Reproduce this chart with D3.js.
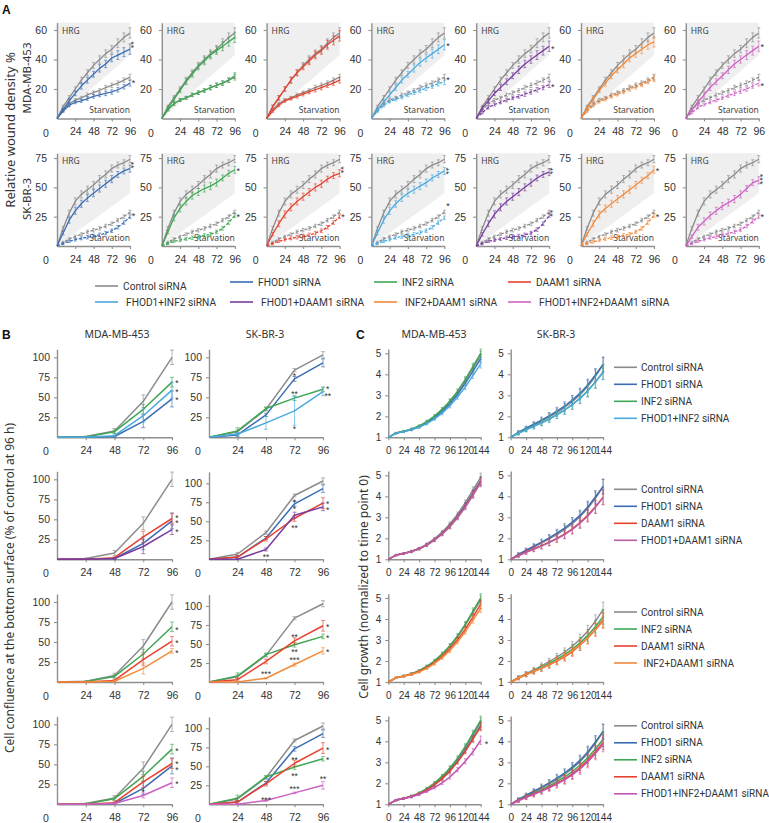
<!DOCTYPE html>
<html>
<head>
<meta charset="utf-8">
<script src="https://cdn.jsdelivr.net/npm/d3@7"></script>
<style>
  body { margin: 0; background: #fff; }
  svg { display: block; }
</style>
</head>
<body>
<svg id="fig" width="769" height="823"></svg>
<script>
// ---------------- data ----------------
const seriesNames = ["Control siRNA", "FHOD1 siRNA", "INF2 siRNA", "DAAM1 siRNA",
  "FHOD1+INF2 siRNA", "FHOD1+DAAM1 siRNA", "INF2+DAAM1 siRNA", "FHOD1+INF2+DAAM1 siRNA"];
const seriesColors = ["#8b8b8b", "#3a6db3", "#3fa653", "#e8422e",
  "#4aa9df", "#7a3d9e", "#f28b3c", "#cc62c2"];
// panel C draws the double knock-down FHOD1+DAAM1 in a lighter mauve
const seriesColorsC = ["#8b8b8b", "#3a6db3", "#3fa653", "#e8422e",
  "#4aa9df", "#b75ea6", "#f28b3c", "#c254b6"];

// A: wound density, every 8 h
const hoursA = [0, 8, 16, 24, 32, 40, 48, 56, 64, 72, 80, 88, 96];
const ctrlMdaHrg   = [0, 8, 14, 20, 26, 31, 36, 40, 44, 47, 51, 55, 58];
const ctrlMdaStarv = [0, 6, 10, 12.5, 14, 16, 17.5, 19, 21, 22.5, 24, 26, 28];
const ctrlSkHrg    = [0, 15, 28, 38, 44, 48, 52, 57, 61, 66, 69, 71, 74];
const ctrlSkStarv  = [0, 3, 6, 8, 10, 12, 13.5, 15, 17, 19, 22, 25, 29];
// one row per treatment (FHOD1, INF2, DAAM1, F+I, F+D, I+D, F+I+D)
const mdaHrg = [
  [0, 6, 12, 17, 22, 26, 30, 34, 37, 41, 43, 45, 47],
  [0, 7, 13, 19, 25, 30, 35, 39, 43, 46, 49, 52, 55],
  [0, 8, 14, 20, 26, 31, 35, 39, 43, 46, 50, 53, 56],
  [0, 6, 11, 16, 21, 26, 30, 34, 38, 41, 44, 47, 50],
  [0, 7, 12, 17, 21, 25, 29, 33, 37, 40, 43, 46, 49],
  [0, 7, 13, 19, 24, 29, 33, 37, 41, 44, 47, 50, 52],
  [0, 6, 11, 16, 21, 25, 29, 33, 37, 40, 43, 46, 49]
];
const mdaStarv = [
  [0, 5, 9, 11, 12, 13.5, 15, 16, 17, 18, 19.5, 21.5, 24],
  [0, 6, 10, 12.5, 14, 16, 17.5, 19, 21, 22.5, 24, 26, 29],
  [0, 5, 9, 12, 13.5, 15, 16.5, 18, 19.5, 21, 22.5, 24, 26],
  [0, 5, 9, 11.5, 13, 14.5, 16, 17.5, 19, 20.5, 22, 23.5, 25],
  [0, 4, 7.5, 9.5, 11, 12.5, 14, 15, 16.5, 18, 19.5, 21, 23],
  [0, 5, 9, 11.5, 13, 15, 16.5, 18, 20, 21.5, 23, 25, 27],
  [0, 4, 7.5, 9.5, 11, 12.5, 14, 15.5, 17, 18.5, 20, 22, 24]
];
const skHrg = [
  [0, 11, 22, 30, 36, 41, 45, 49, 53, 57, 61, 64, 66],
  [0, 12, 24, 32, 38, 43, 46, 49, 51, 54, 58, 62, 65],
  [0, 10, 19, 27, 33, 38, 42, 46, 50, 53, 57, 60, 62],
  [0, 11, 22, 30, 36, 41, 45, 48, 51, 54, 58, 61, 64],
  [0, 10, 19, 27, 33, 38, 42, 46, 50, 54, 58, 61, 63],
  [0, 10, 19, 27, 32, 36, 40, 44, 48, 52, 56, 60, 65],
  [0, 8, 16, 21, 26, 30, 34, 37, 40, 44, 49, 54, 56]
];
const skStarv = [
  [0, 2, 4, 5.5, 6.5, 7.5, 8.5, 9.5, 11, 13, 16, 20, 25],
  [0, 2, 4, 5, 6, 7, 8, 9, 10, 12, 15, 20, 26],
  [0, 2, 4, 5.5, 6.5, 7.5, 8.5, 9.5, 11, 13, 16, 20, 25],
  [0, 2, 4, 5.5, 7, 8, 9, 10, 11.5, 13, 16, 20, 24],
  [0, 2, 4, 5, 6, 7, 8, 8.5, 9.5, 11, 14, 19, 26],
  [0, 2, 3.5, 5, 6, 7, 8, 9, 10, 12, 15, 20, 26],
  [0, 2, 4, 5.5, 7, 8, 9.5, 10.5, 12, 14, 17, 21, 25]
];
const errMdaHrg   = [0, 1, 1.5, 1.5, 2, 2, 2, 2.5, 2.5, 2.5, 3, 3, 3.5];
const errMdaStarv = [0, 0.8, 1, 1, 1, 1.2, 1.2, 1.2, 1.5, 1.5, 1.5, 1.5, 2];
const errSkHrg    = [0, 1.5, 2.5, 3, 3, 3, 3, 3, 3, 3, 2.5, 2.5, 3];
const errSkStarv  = [0, 1, 1, 1.2, 1.2, 1.5, 1.5, 1.5, 1.5, 1.5, 1.5, 1.5, 1.5];
const wedgeLowA = [43, 45];          // lower edge of the HRG band at 96 h
const yTicksA = [[20, 40, 60], [25, 50, 75]];
const yTopA = [65, 79];
// [row, panel, value, number of stars]
const starsA = [
  [0, 0, 50, 2], [0, 0, 26, 1], [0, 3, 51, 1], [0, 3, 28, 1], [0, 4, 49, 1], [0, 4, 23, 1],
  [0, 6, 50, 1], [0, 6, 24, 1],
  [1, 0, 69, 2], [1, 0, 28, 1], [1, 1, 66.5, 1], [1, 1, 26.5, 1], [1, 2, 65, 2], [1, 2, 26.5, 1],
  [1, 3, 64, 2], [1, 3, 36.5, 1], [1, 4, 64, 2], [1, 4, 28, 2], [1, 5, 66, 1], [1, 5, 27, 1],
  [1, 6, 57, 3], [1, 6, 27, 1]
];

// B: confluence at bottom surface
const hoursB = [0, 24, 48, 72, 96];
const bMdaVals = [
  [0, 1, 8, 45, 100], [0, 0, 1, 20, 48], [0, 0.5, 7, 35, 69], [0, 0, 2, 28, 51],
  [0, 0, 2, 27, 59], [0, 0, 1, 16, 37], [0, 0, 1, 17, 39], [0, 0, 1, 11, 27]
];
const bMdaErr = [
  [0, 0.5, 3, 8, 9], [0, 0, 1, 8, 10], [0, 0.5, 2, 6, 6], [0, 0, 1, 7, 6],
  [0, 0, 1, 8, 10], [0, 0, 1, 9, 6], [0, 0, 1, 7, 3], [0, 0, 1, 3, 6]
];
const bSkVals = [
  [0, 7, 35, 84, 103], [0, 3, 28, 73, 93], [0, 8, 36, 49, 60], [0, 3, 27, 54, 74],
  [0, 4, 18, 33, 57], [0, 0, 13, 58, 69], [0, 0, 5, 23, 41], [0, 0, 5, 15, 25]
];
const bSkErr = [
  [0, 2, 2, 2, 4], [0, 2, 2, 3, 5], [0, 4, 2, 3, 3], [0, 2, 3, 4, 7],
  [0, 2, 8, 18, 5], [0, 1, 2, 4, 5], [0, 1, 1, 2, 4], [0, 1, 1, 1, 5]
];
const rowSeries = [[0, 1, 2, 4], [0, 1, 3, 5], [0, 2, 3, 6], [0, 1, 2, 3, 7]];
const yTicksB = [25, 50, 75, 100];
// [row, col, hour, value, label]
const starsB = [
  [0, 0, 100, 71, "*"], [0, 0, 100, 59, "*"], [0, 0, 100, 49, "*"],
  [0, 1, 72, 79, "*"], [0, 1, 72, 57, "**"], [0, 1, 72, 13, "*"], [0, 1, 100, 63, "*"], [0, 1, 100, 55, "**"],
  [1, 0, 100, 55, "*"], [1, 0, 100, 48, "*"], [1, 0, 100, 37, "*"],
  [1, 1, 72, 78, "*"], [1, 1, 72, 69, "*"], [1, 1, 72, 44, "**"], [1, 1, 48, 6, "**"],
  [1, 1, 100, 76, "*"], [1, 1, 100, 68, "*"],
  [2, 0, 100, 68, "*"], [2, 0, 100, 52, "*"], [2, 0, 100, 39, "*"],
  [2, 1, 72, 62, "**"], [2, 1, 72, 42, "**"], [2, 1, 72, 32, "***"], [2, 1, 48, 14, "***"],
  [2, 1, 100, 75, "*"], [2, 1, 100, 61, "*"], [2, 1, 100, 42, "*"],
  [3, 0, 100, 69, "*"], [3, 0, 100, 53, "*"], [3, 0, 100, 46, "*"], [3, 0, 100, 28, "*"], [3, 0, 72, 18, "*"],
  [3, 1, 72, 61, "**"], [3, 1, 72, 40, "**"], [3, 1, 72, 23, "***"], [3, 1, 48, 9, "***"],
  [3, 1, 100, 75, "*"], [3, 1, 100, 61, "*"], [3, 1, 96, 36, "**"]
];

// C: cell growth, every 12 h
const hoursC = [0, 12, 24, 36, 48, 60, 72, 84, 96, 108, 120, 132, 144];
const cMdaVals = [
  [1, 1.2, 1.28, 1.38, 1.52, 1.72, 1.98, 2.3, 2.68, 3.15, 3.7, 4.3, 4.9],
  [1, 1.2, 1.28, 1.37, 1.5, 1.69, 1.93, 2.24, 2.6, 3.05, 3.58, 4.15, 4.75],
  [1, 1.2, 1.29, 1.39, 1.54, 1.75, 2.01, 2.34, 2.73, 3.2, 3.76, 4.38, 5.0],
  [1, 1.2, 1.28, 1.37, 1.5, 1.68, 1.92, 2.22, 2.58, 3.02, 3.52, 4.1, 4.7],
  [1, 1.19, 1.27, 1.36, 1.48, 1.65, 1.88, 2.15, 2.5, 2.92, 3.4, 3.95, 4.5],
  [1, 1.2, 1.28, 1.37, 1.5, 1.68, 1.91, 2.2, 2.55, 2.98, 3.48, 4.05, 4.65],
  [1, 1.2, 1.27, 1.36, 1.48, 1.65, 1.88, 2.16, 2.5, 2.92, 3.4, 3.95, 4.5],
  [1, 1.2, 1.28, 1.36, 1.47, 1.62, 1.8, 2.02, 2.3, 2.65, 3.05, 3.5, 4.05]
];
const cSkVals = [
  [1, 1.22, 1.4, 1.58, 1.77, 1.97, 2.18, 2.42, 2.7, 3.03, 3.42, 3.9, 4.45],
  [1, 1.23, 1.43, 1.62, 1.82, 2.02, 2.25, 2.49, 2.77, 3.09, 3.49, 3.97, 4.47],
  [1, 1.2, 1.37, 1.53, 1.7, 1.88, 2.08, 2.3, 2.56, 2.86, 3.22, 3.63, 4.1],
  [1, 1.18, 1.35, 1.5, 1.65, 1.82, 2.0, 2.2, 2.45, 2.75, 3.1, 3.5, 3.95],
  [1, 1.19, 1.36, 1.52, 1.68, 1.86, 2.07, 2.3, 2.55, 2.85, 3.2, 3.65, 4.1],
  [1, 1.17, 1.33, 1.48, 1.63, 1.8, 1.98, 2.18, 2.42, 2.72, 3.05, 3.48, 3.95],
  [1, 1.19, 1.36, 1.51, 1.66, 1.83, 2.02, 2.23, 2.48, 2.77, 3.1, 3.48, 3.9],
  [1, 1.17, 1.33, 1.47, 1.62, 1.78, 1.96, 2.16, 2.4, 2.68, 3.02, 3.42, 3.85]
];
const cMdaErr = [0, 0.03, 0.04, 0.05, 0.05, 0.06, 0.07, 0.08, 0.1, 0.1, 0.12, 0.15, 0.2];
const cSkErr  = [0, 0.08, 0.1, 0.12, 0.14, 0.16, 0.18, 0.2, 0.22, 0.25, 0.28, 0.3, 0.35];
const xTicksC = [0, 24, 48, 72, 96, 120, 144];
const yTicksC = [1, 2, 3, 4, 5];
const starsC = [[3, 0, 153, 4.0, "*"]];

// ---------------- drawing ----------------
const NUM = '"Liberation Sans", Arial, sans-serif';
const TXT = '"Noto Sans", "Liberation Sans", sans-serif';
const LEG = 'Roboto, "Noto Sans", sans-serif';
const AXIS = "#8f8f8f";
const svg = d3.select("#fig");

function text(g, x, y, s, o = {}) {
  const t = g.append("text").attr("x", x).attr("y", y).text(s)
    .attr("font-size", o.size || 10)
    .attr("font-family", o.family || TXT)
    .attr("text-anchor", o.anchor || "start")
    .attr("fill", o.fill || "#333")
    .attr("dy", o.dy || "0.35em")
    .style("white-space", "pre");
  if (o.weight) t.attr("font-weight", o.weight);
  if (o.rotate) t.attr("transform", `rotate(${o.rotate},${x},${y})`);
  return t;
}

function styleAxis(sel, size) {
  sel.select(".domain").attr("stroke", AXIS).attr("stroke-width", 1.4);
  sel.selectAll(".tick line").attr("stroke", AXIS).attr("stroke-width", 1.1);
  sel.selectAll(".tick text").attr("fill", "#333").attr("font-family", NUM).attr("font-size", size);
}

function axes(g, x, y, xt, yt, o) {
  const [y0] = y.range();
  g.append("g").attr("transform", `translate(0,${y0})`)
    .call(d3.axisBottom(x).tickValues(xt).tickFormat(d3.format("d")).tickSize(3).tickSizeOuter(0).tickPadding(6.5))
    .call(s => styleAxis(s, o.size));
  g.append("g").attr("transform", `translate(${x.range()[0]},0)`)
    .call(d3.axisLeft(y).tickValues(yt).tickFormat(d3.format("d")).tickSize(3).tickSizeOuter(0).tickPadding(o.ypad))
    .call(s => styleAxis(s, o.size));
  if (o.zero) {
    text(g, x.range()[0] - 11, y0 + 14.5, "0", { family: NUM, size: o.size, anchor: "middle" });
  }
}

function series(g, x, y, hours, vals, errs, color, o) {
  const line = d3.line().x((d, i) => x(hours[i])).y(d => y(d));
  const eb = g.append("g").attr("stroke", color).attr("stroke-width", 0.8).attr("opacity", 0.8);
  vals.forEach((v, i) => {
    const e = errs[i];
    if (!e) return;
    const cx = x(hours[i]);
    const lo = Math.max(y.domain()[0], v - e);
    eb.append("line").attr("x1", cx).attr("x2", cx).attr("y1", y(lo)).attr("y2", y(v + e));
    [lo, v + e].forEach(w => eb.append("line")
      .attr("x1", cx - o.cap).attr("x2", cx + o.cap).attr("y1", y(w)).attr("y2", y(w)));
  });
  g.append("path").datum(vals).attr("d", line)
    .attr("fill", "none").attr("stroke", color)
    .attr("stroke-width", o.width).attr("stroke-linejoin", "round")
    .attr("stroke-dasharray", o.dash || null);
}

// stars: vertical stacks are drawn as one rotated string
function starMark(g, cx, cy, n, vertical, size) {
  const s = "*".repeat(n);
  if (vertical && n > 1) {
    text(g, cx, cy, s, { family: NUM, size: size, anchor: "middle", dy: "0.6em", rotate: 90 });
  } else {
    text(g, cx, cy, s, { family: NUM, size: size, anchor: "middle", dy: "0.62em" });
  }
}

// ---- panel A ----
const aX0 = d3.range(7).map(i => 57 + i * 104.8);
const aBase = [118.5, 246];
const aK = [1.475, 1.173];
const dashStarv = [[false, false, false, true, true, true, true], [true, true, true, true, true, true, true]];

[0, 1].forEach(row => {
  const ctrlH = row ? ctrlSkHrg : ctrlMdaHrg;
  const ctrlS = row ? ctrlSkStarv : ctrlMdaStarv;
  const trtH = row ? skHrg : mdaHrg;
  const trtS = row ? skStarv : mdaStarv;
  const eH = row ? errSkHrg : errMdaHrg;
  const eS = row ? errSkStarv : errMdaStarv;
  aX0.forEach((x0, i) => {
    const g = svg.append("g");
    const x = d3.scaleLinear().domain([0, 96]).range([x0, x0 + 73]);
    const y = d3.scaleLinear().domain([0, yTopA[row]]).range([aBase[row], aBase[row] - yTopA[row] * aK[row]]);
    const wedge = [[0, 0], [0, yTopA[row]], [96, yTopA[row]], [96, wedgeLowA[row]]];
    g.append("polygon").attr("points", wedge.map(p => x(p[0]) + "," + y(p[1])).join(" ")).attr("fill", "#efefef");
    text(g, x0 + 5, y.range()[1] + 8, "HRG", { size: 8.5, fill: "#444" });
    text(g, x0 + 73, aBase[row] - 8, "Starvation", { size: 8.5, fill: "#444", anchor: "end" });
    axes(g, x, y, [24, 48, 72, 96], yTicksA[row], { size: 10.5, ypad: 7, zero: true });
    const dash = dashStarv[row][i] ? "3,1.6" : null;
    const opt = { width: 1.3, cap: 1.5 };
    series(g, x, y, hoursA, ctrlS, eS, seriesColors[0], { ...opt, dash });
    series(g, x, y, hoursA, ctrlH, eH, seriesColors[0], opt);
    series(g, x, y, hoursA, trtS[i], eS, seriesColors[i + 1], { ...opt, dash });
    series(g, x, y, hoursA, trtH[i], eH, seriesColors[i + 1], opt);
    starsA.filter(s => s[0] === row && s[1] === i)
      .forEach(s => starMark(g, x0 + 76.5, y(s[2]), s[3], true, 9));
  });
});
text(svg, 27, 78, "MDA-MB-453", { size: 11.5, anchor: "middle", rotate: -90 });
text(svg, 27, 199, "SK-BR-3", { size: 11.5, anchor: "middle", rotate: -90 });
text(svg, 10, 130, "Relative wound density %", { size: 13, anchor: "middle", rotate: -90 });
text(svg, 2, 5, "A", { size: 12, weight: "bold", fill: "#111", family: NUM, dy: "0.71em" });

// legend A
const legA = [
  [0, 95, 286], [1, 230, 282], [2, 374, 282], [3, 508, 282],
  [4, 95, 302], [5, 230, 302], [6, 374, 302], [7, 508, 302]
];
legA.forEach(([k, lx, ly]) => {
  svg.append("line").attr("x1", lx).attr("x2", lx + 23).attr("y1", ly).attr("y2", ly)
    .attr("stroke", seriesColors[k]).attr("stroke-width", 1.6);
  const pad = k >= 4 ? 8 : 5;
  text(svg, lx + 23 + pad, ly, seriesNames[k], { size: 10.2, fill: "#333", family: LEG });
});

// ---- panel B & C ----
const baseBC = [437.3, 559.3, 682, 804.3];
const bX0 = [57, 209];
const bW = [115, 114];
const cX0 = [388.3, 510.7];

text(svg, 2, 330, "B", { size: 12, weight: "bold", fill: "#111", family: NUM, dy: "0.71em" });
text(svg, 117, 334, "MDA-MB-453", { size: 10.5, anchor: "middle" });
text(svg, 265, 334, "SK-BR-3", { size: 10.5, anchor: "middle" });
text(svg, 10, 588, "Cell confluence at the bottom surface (% of control at 96 h)", { size: 12, anchor: "middle", rotate: -90 });

text(svg, 356, 330, "C", { size: 12, weight: "bold", fill: "#111", family: NUM, dy: "0.71em" });
text(svg, 434, 334, "MDA-MB-453", { size: 10.5, anchor: "middle" });
text(svg, 556, 334, "SK-BR-3", { size: 10.5, anchor: "middle" });
text(svg, 364, 587, "Cell growth (normalized to time point 0)", { size: 12, anchor: "middle", rotate: -90 });

baseBC.forEach((base, row) => {
  const members = rowSeries[row];
  // B
  [0, 1].forEach(col => {
    const g = svg.append("g");
    const vals = col ? bSkVals : bMdaVals;
    const errs = col ? bSkErr : bMdaErr;
    const k = (col === 1 && row > 0) ? 0.76 : 0.8;
    const top = (col === 1 && row > 0) ? 115 : 110;
    const x = d3.scaleLinear().domain([0, 96]).range([bX0[col], bX0[col] + bW[col]]);
    const y = d3.scaleLinear().domain([0, top]).range([base, base - top * k]);
    axes(g, x, y, [24, 48, 72, 96], yTicksB, { size: 10.5, ypad: 4, zero: true });
    members.forEach(m => series(g, x, y, hoursB, vals[m], errs[m], seriesColors[m], { width: 1.5, cap: 2 }));
    starsB.filter(s => s[0] === row && s[1] === col)
      .forEach(s => starMark(g, x(s[2]), y(s[3]), s[4].length, false, 8.5));
  });
  // C
  [0, 1].forEach(col => {
    const g = svg.append("g");
    const vals = col ? cSkVals : cMdaVals;
    const errs = col ? cSkErr : cMdaErr;
    const x = d3.scaleLinear().domain([0, 144]).range([cX0[col], cX0[col] + 92.4]);
    const y = d3.scaleLinear().domain([1, 5.2]).range([base, base - 4.2 * 21]);
    axes(g, x, y, xTicksC, yTicksC, { size: 10, ypad: 4, zero: false });
    members.forEach(m => series(g, x, y, hoursC, vals[m], errs, seriesColorsC[m], { width: 1.5, cap: 1.3 }));
    starsC.filter(s => s[0] === row && s[1] === col)
      .forEach(s => starMark(g, x(s[2]), y(s[3]), s[4].length, false, 9));
  });
  // C legend
  const ly0 = base - (members.length > 4 ? 78.5 : 70);
  members.forEach((m, j) => {
    const ly = ly0 + j * 17;
    svg.append("line").attr("x1", 614).attr("x2", 637).attr("y1", ly).attr("y2", ly)
      .attr("stroke", seriesColorsC[m]).attr("stroke-width", 1.6);
    text(svg, 641, ly, (row === 2 && m === 6 ? " " : "") + seriesNames[m], { size: 10, fill: "#333", family: LEG });
  });
});
</script>
</body>
</html>
